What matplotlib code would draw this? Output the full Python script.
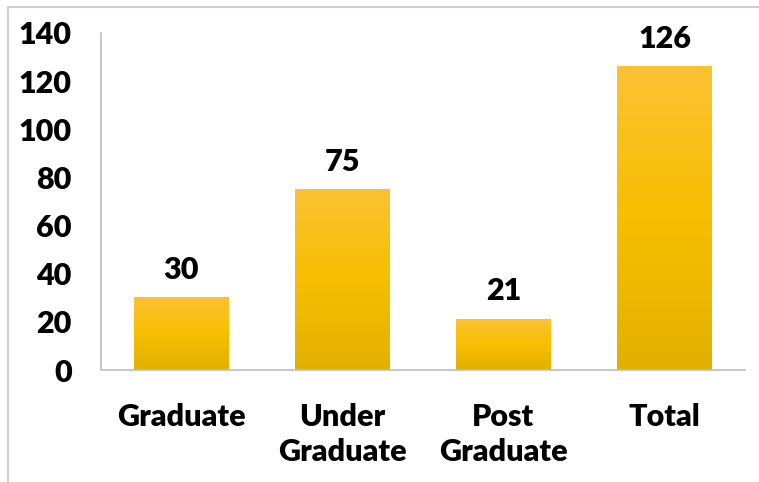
import numpy as np
import matplotlib
matplotlib.use("Agg")
import matplotlib.pyplot as plt
from matplotlib.colors import LinearSegmentedColormap
from matplotlib.patches import Rectangle

categories = ["Graduate", "Under\nGraduate", "Post\nGraduate", "Total"]
values = [30, 75, 21, 126]
yticks = [0, 20, 40, 60, 80, 100, 120, 140]

plt.rcParams['font.family'] = ['Lato', 'DejaVu Sans']

fig = plt.figure(figsize=(7.59, 4.82), dpi=100)
# light grey frame (only top/left visible, the picture is cropped)
fig.patches.append(Rectangle((8 / 759, -0.1), 1.2, 1 - 7 / 482 + 0.1, transform=fig.transFigure,
                             fill=False, edgecolor='#d0d0d0', linewidth=1.5))

ax = fig.add_axes([101 / 759, 1 - 370 / 482, (745 - 101) / 759, (370 - 33) / 482])

cmap = LinearSegmentedColormap.from_list("bar", ["#e2b000", "#f6bf00", "#fbc233"])
grad = np.linspace(0, 1, 256).reshape(-1, 1)
width = 0.59
fs = 22
x = np.arange(len(categories))
for xi, v in zip(x, values):
    ax.imshow(grad, cmap=cmap, origin='lower', aspect='auto',
              extent=(xi - width / 2, xi + width / 2, 0, v), zorder=2)
    ax.text(xi, v + 5.8, str(v), ha='center', va='bottom', fontsize=fs, fontweight='heavy')

ax.set_xlim(-0.5, len(categories) - 0.5)
ax.set_ylim(0, 140)
ax.set_yticks(yticks)
ax.set_yticklabels([str(t) for t in yticks], fontsize=fs, fontweight='heavy')
ax.set_xticks(x)
ax.set_xticklabels(categories, fontsize=fs, fontweight='heavy', linespacing=1.3)
ax.tick_params(axis='y', length=0, pad=21)
ax.tick_params(axis='x', length=0, pad=24)
for s in ['top', 'right']:
    ax.spines[s].set_visible(False)
for s in ['left', 'bottom']:
    ax.spines[s].set_color('#bfbfbf')
    ax.spines[s].set_linewidth(1.2)

fig.savefig("out.png", dpi=100)
